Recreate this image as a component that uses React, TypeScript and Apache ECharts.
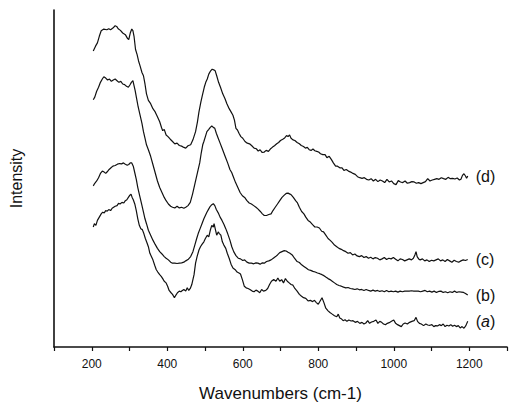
import React, { useEffect, useRef } from "react";
import * as echarts from "echarts";

const xTicks = { min: 100, max: 1300, step: 100 };
const xName = "Wavenumbers (cm-1)";
const yName = "Intensity";

const seriesNames = ["(a)", "(b)", "(c)", "(d)"];

const curveD: [number, number][] = [[204,900],[210,915],[215,925],[220,945],[225,962],[232,967],[240,965],[245,968],[250,965],[256,970],[262,977],[266,975],[270,968],[276,963],[282,955],[289,950],[295,938],[298,935],[302,955],[306,967],[309,962],[312,945],[316,905],[320,890],[324,870],[328,855],[333,835],[337,825],[341,800],[345,770],[350,750],[356,740],[362,725],[368,715],[374,700],[380,685],[385,667],[388,658],[392,662],[397,645],[402,640],[408,632],[414,625],[420,618],[426,620],[432,613],[438,611],[444,607],[449,605],[455,612],[462,615],[468,630],[475,655],[480,685],[484,715],[489,745],[493,765],[498,790],[502,805],[506,815],[510,830],[515,840],[519,845],[523,843],[527,840],[531,825],[536,805],[541,790],[547,770],[553,755],[558,740],[564,725],[569,715],[574,705],[578,690],[582,665],[586,660],[590,650],[595,640],[600,635],[606,625],[612,620],[618,618],[624,612],[630,605],[636,603],[641,596],[646,600],[651,592],[657,593],[662,598],[668,595],[673,602],[679,608],[684,612],[690,618],[695,622],[700,628],[706,632],[711,636],[716,643],[720,640],[724,645],[728,635],[733,630],[738,628],[744,622],[750,618],[755,613],[761,610],[766,605],[771,607],[776,600],[781,598],[786,602],[791,597],[796,595],[801,593],[806,588],[812,585],[818,585],[823,576],[829,580],[835,570],[840,560],[846,550],[851,550],[857,545],[863,545],[868,537],[874,540],[880,535],[886,532],[892,528],[898,525],[904,518],[910,515],[916,513],[922,515],[928,510],[934,508],[940,512],[946,505],[952,510],[958,503],[964,508],[970,505],[976,500],[982,510],[988,502],[994,505],[1000,497],[1006,494],[1012,506],[1018,502],[1024,500],[1030,505],[1036,498],[1042,500],[1048,503],[1054,502],[1060,498],[1066,500],[1072,497],[1078,500],[1084,503],[1090,512],[1096,505],[1102,508],[1108,510],[1114,512],[1120,510],[1126,515],[1132,512],[1138,510],[1144,516],[1150,512],[1156,513],[1162,511],[1168,514],[1174,508],[1178,510],[1182,522],[1186,527],[1190,520],[1193,513],[1196,520]];

const curveC: [number, number][] = [[204,752],[208,760],[213,778],[218,790],[223,805],[228,815],[232,822],[237,818],[242,812],[247,815],[252,808],[257,812],[262,815],[267,810],[272,805],[277,808],[282,800],[287,798],[292,793],[297,790],[301,797],[305,805],[309,810],[312,795],[315,780],[319,755],[323,730],[328,705],[333,680],[337,655],[341,635],[345,615],[350,600],[356,580],[362,555],[368,530],[374,505],[380,485],[386,470],[392,455],[397,445],[403,435],[409,428],[414,425],[420,423],[426,428],[432,423],[438,425],[444,422],[449,425],[455,430],[461,440],[467,465],[472,490],[477,515],[482,540],[486,560],[490,590],[494,615],[497,625],[501,640],[505,655],[510,662],[514,668],[518,672],[522,668],[526,665],[530,650],[535,635],[540,620],[545,605],[550,590],[555,575],[560,560],[566,540],[571,530],[576,515],[581,500],[587,485],[593,470],[599,460],[605,455],[611,445],[617,438],[623,435],[629,430],[635,425],[640,420],[646,413],[652,405],[657,400],[663,400],[669,403],[675,405],[680,415],[686,425],[692,435],[698,445],[704,455],[710,462],[715,467],[720,468],[725,465],[729,462],[734,455],[740,445],[745,438],[750,425],[756,412],[762,405],[767,395],[773,385],[779,380],[785,372],[791,365],[797,365],[803,362],[809,352],[814,350],[820,340],[826,330],[831,325],[837,318],[843,310],[849,305],[855,300],[861,297],[867,293],[873,290],[879,285],[885,287],[891,280],[897,283],[903,277],[909,275],[915,278],[921,272],[927,275],[933,270],[939,273],[945,268],[951,272],[957,270],[963,265],[969,268],[975,272],[981,266],[987,270],[993,268],[999,272],[1005,267],[1011,262],[1017,268],[1023,266],[1029,262],[1035,265],[1041,268],[1047,265],[1052,270],[1056,280],[1059,290],[1062,275],[1066,268],[1070,265],[1076,268],[1082,262],[1088,265],[1094,260],[1100,264],[1106,262],[1112,265],[1118,268],[1124,262],[1130,265],[1136,260],[1142,266],[1148,262],[1154,258],[1160,264],[1166,260],[1172,258],[1178,262],[1184,265],[1190,263],[1196,266]];

const curveB: [number, number][] = [[204,490],[208,498],[213,505],[218,515],[223,528],[228,535],[233,532],[237,528],[241,533],[246,540],[251,545],[256,550],[262,552],[268,556],[274,558],[279,557],[284,560],[289,556],[294,553],[298,555],[302,560],[306,560],[310,550],[314,530],[318,510],[322,485],[327,460],[332,435],[337,410],[341,390],[345,375],[350,355],[356,340],[362,325],[368,312],[374,300],[380,290],[386,283],[392,275],[397,270],[403,265],[409,258],[414,255],[420,255],[426,254],[432,255],[438,256],[444,258],[449,262],[455,266],[462,275],[468,290],[473,310],[478,330],[482,345],[487,360],[492,375],[497,390],[501,400],[505,410],[510,420],[514,428],[518,433],[522,436],[526,430],[530,418],[535,408],[540,395],[545,385],[550,373],[555,360],[560,345],[566,325],[571,305],[576,290],[582,278],[588,270],[594,268],[600,263],[605,265],[611,258],[617,255],[623,255],[629,253],[635,256],[640,255],[646,252],[652,256],[657,255],[663,260],[669,262],[675,265],[681,270],[687,275],[692,280],[698,287],[704,290],[710,293],[715,292],[720,288],[725,285],[731,280],[737,270],[744,260],[750,257],[756,250],[762,245],[768,240],[774,235],[780,233],[786,230],[792,228],[798,225],[804,223],[810,220],[815,217],[821,212],[826,208],[831,205],[837,200],[843,195],[849,190],[855,187],[861,185],[867,182],[873,180],[879,181],[885,178],[891,177],[897,175],[903,177],[909,174],[915,175],[921,172],[927,175],[933,172],[939,170],[945,173],[951,170],[957,172],[963,169],[969,171],[975,168],[981,172],[987,168],[993,170],[999,168],[1005,170],[1011,167],[1017,170],[1023,168],[1029,170],[1035,170],[1041,170],[1047,171],[1053,170],[1059,170],[1065,170],[1071,168],[1077,170],[1083,172],[1089,168],[1095,170],[1101,167],[1107,170],[1113,166],[1119,169],[1125,170],[1131,166],[1137,168],[1143,165],[1149,168],[1155,166],[1161,170],[1167,166],[1173,168],[1179,167],[1185,166],[1190,163],[1196,158]];

const curveA: [number, number][] = [[204,365],[207,375],[211,370],[215,385],[220,395],[225,405],[229,410],[233,408],[237,415],[241,413],[245,418],[250,415],[254,422],[258,425],[262,428],[267,430],[271,437],[275,435],[280,440],[285,438],[289,445],[293,448],[297,455],[301,462],[304,465],[307,455],[310,448],[314,435],[318,415],[322,390],[326,370],[330,360],[334,357],[338,345],[342,330],[346,318],[350,305],[354,285],[358,275],[362,265],[367,248],[371,235],[375,228],[380,220],[384,215],[388,208],[392,200],[397,195],[401,185],[405,172],[410,165],[414,160],[419,150],[423,158],[427,165],[432,170],[436,168],[440,172],[444,175],[449,170],[453,180],[457,172],[461,178],[465,190],[468,205],[471,220],[475,255],[479,275],[484,295],[488,305],[492,312],[497,320],[501,330],[506,340],[510,335],[514,355],[518,370],[522,365],[524,375],[527,360],[531,340],[535,350],[538,345],[542,340],[546,320],[550,310],[555,300],[559,285],[564,270],[569,252],[574,240],[580,235],[585,228],[590,225],[594,222],[599,205],[604,185],[609,180],[614,178],[619,175],[625,170],[630,168],[635,173],[640,170],[645,165],[650,175],[655,170],[661,172],[666,178],[671,190],[676,200],[682,205],[688,200],[693,210],[698,200],[703,205],[708,195],[713,208],[718,200],[723,195],[728,190],[733,188],[738,178],[744,170],[750,160],[755,155],[761,150],[767,148],[773,140],[779,142],[785,138],[790,142],[795,135],[800,130],[805,140],[810,150],[815,135],[820,118],[826,110],[831,105],[837,100],[843,95],[849,92],[853,100],[857,88],[862,85],[866,80],[871,83],[876,78],[881,82],[887,79],[892,80],[898,75],[904,78],[910,72],[916,75],[921,70],[926,73],[931,80],[936,72],[941,76],[947,78],[953,82],[958,72],[963,78],[968,75],[973,70],[978,68],[983,72],[988,74],[994,78],[1000,82],[1005,72],[1010,68],[1015,65],[1020,62],[1025,70],[1030,73],[1036,70],[1042,75],[1048,78],[1054,80],[1059,90],[1063,78],[1068,72],[1073,70],[1079,65],[1085,70],[1090,67],[1096,66],[1101,68],[1106,62],[1111,65],[1116,64],[1121,68],[1126,65],[1131,70],[1136,62],[1141,66],[1146,64],[1151,68],[1156,63],[1161,66],[1166,62],[1171,65],[1176,58],[1181,62],[1186,57],[1191,65],[1196,78]];

const curves = [curveA, curveB, curveC, curveD];

const FONT = "Arial, 'Liberation Sans', Helvetica, sans-serif";

export default function App() {
  const ref = useRef<HTMLDivElement>(null);
  useEffect(() => {
    if (!ref.current) return;
    const chart = echarts.init(ref.current, undefined, { renderer: "svg" });
    chart.setOption({
      animation: false,
      backgroundColor: "#ffffff",
      grid: { left: 53, right: -4, top: 10, bottom: 56, containLabel: false },
      xAxis: {
        type: "value",
        min: xTicks.min,
        max: xTicks.max,
        interval: xTicks.step,
        name: xName,
        nameLocation: "middle",
        nameGap: 38,
        nameTextStyle: { fontFamily: FONT, fontSize: 17, color: "#111" },
        axisLine: { show: true, lineStyle: { color: "#111", width: 1.6 } },
        axisTick: { show: true, length: 4, inside: false, lineStyle: { color: "#111", width: 1.2 } },
        axisLabel: {
          margin: 11,
          fontFamily: FONT,
          fontSize: 12,
          color: "#111",
          formatter: (v: number) => (v % 200 === 0 && v <= 1200 ? String(v) : ""),
        },
        splitLine: { show: false },
      },
      yAxis: {
        type: "value",
        min: 0,
        max: 1025,
        name: yName,
        nameLocation: "middle",
        nameGap: 30,
        nameTextStyle: { fontFamily: FONT, fontSize: 16, color: "#111" },
        axisLine: { show: true, lineStyle: { color: "#111", width: 1.6 } },
        axisTick: { show: false },
        axisLabel: { show: false },
        splitLine: { show: false },
      },
      series: curves.map((c, i) => ({
        type: "line",
        name: seriesNames[i],
        data: c,
        symbol: "none",
        smooth: false,
        lineStyle: { color: "#111", width: 1.2 },
        endLabel: {
          show: true,
          distance: 8,
          fontFamily: FONT,
          fontSize: 16,
          color: "#111",
          formatter: () => (i === 0 ? "({i|a})" : seriesNames[i]),
          rich: { i: { fontStyle: "italic", fontFamily: FONT, fontSize: 16, color: "#111" } },
        },
      })),
    });
    return () => chart.dispose();
  }, []);
  return (
    <div
      ref={ref}
      style={{ position: "absolute", left: 0, top: 0, width: 510, height: 407, background: "#fff" }}
    />
  );
}
